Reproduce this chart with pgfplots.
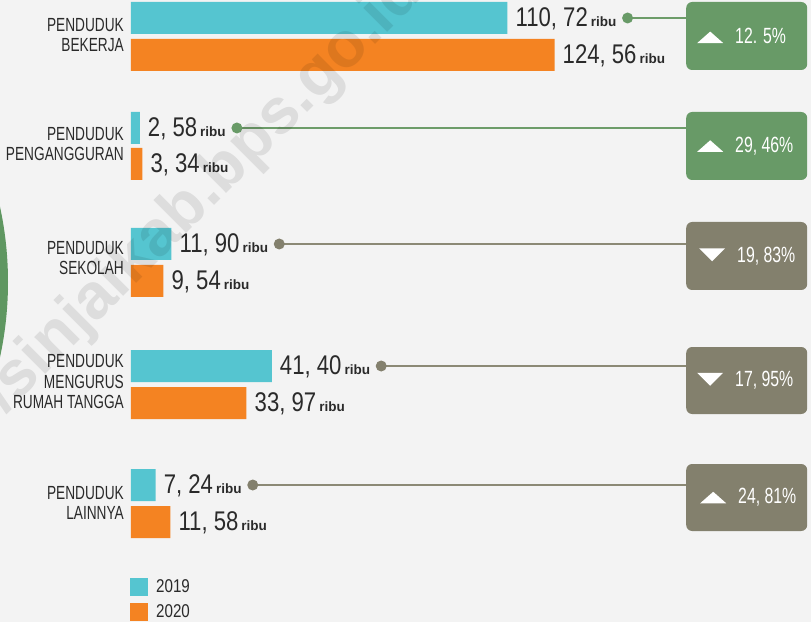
\documentclass[border=0pt]{standalone}
\usepackage{fontspec}
\setmainfont{Liberation Sans}
\newfontfamily\catfont[FakeStretch=0.72]{Liberation Sans}
\newfontfamily\numfont[FakeStretch=0.82]{Liberation Sans}
\newfontfamily\ribufont{Liberation Sans}
\usepackage{pgfplots}
\usepackage{pgfplotstable}
\pgfplotsset{compat=1.18}
\usetikzlibrary{calc}

\definecolor{bg}{HTML}{F3F3F3}
\definecolor{c19}{HTML}{55C5D0}
\definecolor{c20}{HTML}{F48322}
\definecolor{boxg}{HTML}{689A67}
\definecolor{boxo}{HTML}{83806D}
\definecolor{lineg}{HTML}{6D9C69}
\definecolor{lineo}{HTML}{8B8975}
\definecolor{txt}{HTML}{2A2A2A}
\definecolor{arcg}{HTML}{5F9761}

% 2019 and 2020 (ribu jiwa); y = vertical position of each bar
\pgfplotstableread{
y x
604 110.72
494 2.58
378 11.90
256 41.40
137 7.24
}\tabA
\pgfplotstableread{
y x
567 124.56
458 3.34
341 9.54
219 33.97
100 11.58
}\tabB

\newcommand{\up}{\tikz[baseline=0pt, sharp corners]\fill[white] (0pt,0.5pt) -- (26pt,0.5pt) -- (13pt,12pt) -- cycle;}
\newcommand{\down}{\tikz[baseline=0pt, sharp corners]\fill[white] (0pt,14pt) -- (26pt,14pt) -- (13pt,1pt) -- cycle;}

\begin{document}
\begin{tikzpicture}
\useasboundingbox (0,0) rectangle (811pt,622pt);
\clip (0,0) rectangle (811pt,622pt);
\fill[bg] (0,0) rectangle (811pt,622pt);
\fill[arcg] (-347pt,340pt) circle (355pt);

\begin{axis}[
  at={(131pt,0pt)}, anchor=south west,
  scale only axis, width=680pt, height=622pt,
  xmin=0, xmax=200, ymin=0, ymax=622,
  clip=false,
  axis line style={draw=none},
  tick style={draw=none},
  major tick length=0pt,
  xtick=\empty,
  ytick={587,478,364,240,119},
  yticklabels={{PENDUDUK\\BEKERJA},{PENDUDUK\\PENGANGGURAN},{PENDUDUK\\SEKOLAH},{PENDUDUK\\MENGURUS\\RUMAH TANGGA},{PENDUDUK\\LAINNYA}},
  yticklabel style={align=right, font=\catfont\fontsize{19}{20.5}\selectfont, text=txt, inner sep=0pt, anchor=east, xshift=-7pt},
  xbar, bar width=32pt,
  point meta=x,
  nodes near coords={\pgfmathprintnumber{\pgfplotspointmeta}\hspace{3pt}{\ribufont\bfseries\fontsize{13.5}{13.5}\selectfont ribu}},
  every node near coord/.append style={anchor=west, inner sep=0pt, xshift=8pt, yshift=-1pt, font=\numfont\fontsize{27}{27}\selectfont, text=txt},
  legend image code/.code={\fill[#1] (0pt,-9pt) rectangle (18pt,9pt);},
  legend style={at={(-0.0015,0.0707)}, anchor=north west, draw=none, fill=none, inner sep=0pt, row sep=7pt, column sep=8pt,
    nodes={inner sep=0pt, text=txt, font=\numfont\fontsize{18.5}{18.5}\selectfont}},
  legend cell align=left,
  /pgf/number format/.cd, fixed, fixed zerofill, precision=2, set decimal separator={,\ }, assume math mode=true,
]
\addplot[fill=c19, draw=none, bar shift=0pt,
  visualization depends on={value \coordindex \as \myidx},
  every node near coord/.append style={name=a\myidx}] table[x=x, y=y] {\tabA};
\addlegendentry{2019}
\addplot[fill=c20, draw=none, bar shift=0pt] table[x=x, y=y] {\tabB};
\addlegendentry{2020}
\end{axis}

% connectors
\foreach \i/\yy/\col in {0/604/lineg, 1/494/lineg, 2/378/lineo, 3/256/lineo, 4/137/lineo}{
  \coordinate (yy) at (0pt,\yy pt);
  \path (a\i.east) ++(11pt,0pt) coordinate (d);
  \draw[\col, line width=2.4pt] (d |- yy) -- (700pt,\yy pt);
}
\foreach \i/\yy/\col in {0/604/boxg, 1/494/boxg, 2/378/boxo, 3/256/boxo, 4/137/boxo}{
  \coordinate (yy) at (0pt,\yy pt);
  \path (a\i.east) ++(11pt,0pt) coordinate (d);
  \fill[\col] (d |- yy) circle (5.5pt);
}

% boxes
\tikzset{pbox/.style={anchor=west, rounded corners=6pt, inner sep=0pt, minimum width=121pt, minimum height=68pt},
  ptxt/.style={anchor=west, inner sep=0pt, text=white, font=\catfont\fontsize{22}{22}\selectfont}}
\node[pbox, fill=boxg] at (686pt,586pt) {};
\node[ptxt] at (697pt,586pt) {\up\hspace{12pt}12. 5\%};
\node[pbox, fill=boxg] at (686pt,476pt) {};
\node[ptxt] at (697pt,476pt) {\up\hspace{12pt}29, 46\%};
\node[pbox, fill=boxo] at (686pt,366pt) {};
\node[ptxt] at (699pt,366pt) {\down\hspace{12pt}19, 83\%};
\node[pbox, fill=boxo, minimum height=67pt] at (686pt,241.5pt) {};
\node[ptxt] at (697pt,241.5pt) {\down\hspace{12pt}17, 95\%};
\node[pbox, fill=boxo, minimum height=67pt] at (686pt,124.5pt) {};
\node[ptxt] at (700pt,124.5pt) {\up\hspace{12pt}24, 81\%};

% watermark
\node[rotate=45, anchor=base west, inner sep=0pt, text=black, text opacity=0.09, font=\ribufont\bfseries\fontsize{64}{64}\selectfont] at (5pt,207pt) {/sinjaikab.bps.go.id};
\node[rotate=45, anchor=base east, inner sep=0pt, text=black, text opacity=0.09, font=\ribufont\bfseries\fontsize{64}{64}\selectfont] at (5pt,207pt) {https:/};
\end{tikzpicture}
\end{document}
